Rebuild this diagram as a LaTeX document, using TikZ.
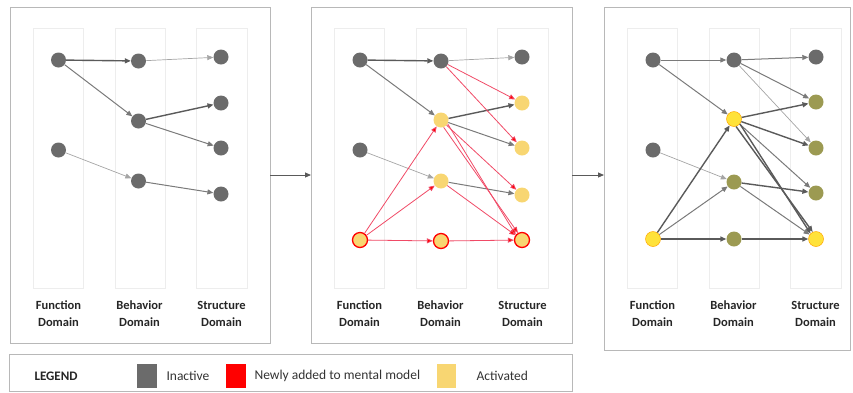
\documentclass[tikz,border=0pt]{standalone}
\usepackage{fontspec}
\setmainfont{Carlito}
\usetikzlibrary{arrows.meta}
\definecolor{gnode}{HTML}{6B6B6B}
\definecolor{ylw}{HTML}{F8D672}
\definecolor{bylw}{HTML}{FFE23A}
\definecolor{olv}{HTML}{9C9A52}
\definecolor{frame}{HTML}{B8B8B8}
\definecolor{strip}{HTML}{EDEDED}
\definecolor{rline}{HTML}{F04A66}
\definecolor{dk}{HTML}{5A5A5A}
\definecolor{md}{HTML}{7A7A7A}
\definecolor{lt}{HTML}{A5A5A5}
\tikzset{
  nd/.style={circle,minimum size=15pt,inner sep=0pt},
  inact/.style={nd,fill=gnode},
  act/.style={nd,fill=ylw},
  newn/.style={nd,fill=ylw,draw=red,line width=1.3pt},
  olvn/.style={nd,fill=olv},
  bright/.style={nd,fill=bylw,draw=orange!70!yellow,line width=0.5pt},
  tip/.style={-{Triangle[length=6pt,width=5pt]}},
  edk/.style={tip,draw=dk,line width=1.4pt},
  emd/.style={tip,draw=md,line width=1pt},
  elt/.style={tip,draw=lt,line width=0.7pt},
  ered/.style={-{Triangle[length=6pt,width=5pt,fill=red]},draw=rline,line width=0.8pt},
  panel/.style={draw=frame,line width=0.8pt},
  stripbox/.style={draw=strip,line width=0.8pt},
  dlabel/.style={font=\fontsize{12.5}{17}\selectfont\bfseries,align=center,text=black!85},
  legtext/.style={font=\fontsize{13.5}{16}\selectfont,text=black!80,anchor=west}
}
\begin{document}
\begin{tikzpicture}[x=1pt,y=-1pt]
\useasboundingbox (0,0) rectangle (853,392);
% panels
\draw[panel] (10,7) rectangle (270,343);
\draw[panel] (311,7) rectangle (572,343);
\draw[panel] (604,7) rectangle (850,350);
% strips
\foreach \ox in {10,311,604}{
  \draw[stripbox] (\ox+23,28) rectangle (\ox+73,288);
  \draw[stripbox] (\ox+105,28) rectangle (\ox+155,288);
  \draw[stripbox] (\ox+186,28) rectangle (\ox+237,288);
  \node[dlabel] at (\ox+48.5,314) {Function\\Domain};
  \node[dlabel] at (\ox+129.5,314) {Behavior\\Domain};
  \node[dlabel] at (\ox+211.5,314) {Structure\\Domain};
}
% ---------- panel 1 ----------
\begin{scope}[xshift=10pt]
\node[inact] (aF1) at (48.5,60) {};
\node[inact] (aF2) at (48.5,150) {};
\node[inact] (aB1) at (128.5,61) {};
\node[inact] (aB2) at (128.5,121) {};
\node[inact] (aB3) at (128.5,181) {};
\node[inact] (aS1) at (211,57) {};
\node[inact] (aS2) at (211,103) {};
\node[inact] (aS3) at (211,148) {};
\node[inact] (aS4) at (211,194) {};
\end{scope}
\draw[edk] (aF1) -- (aB1);
\draw[emd] (aF1) -- (aB2);
\draw[elt] (aB1) -- (aS1);
\draw[edk] (aB2) -- (aS2);
\draw[emd] (aB2) -- (aS3);
\draw[elt] (aF2) -- (aB3);
\draw[emd] (aB3) -- (aS4);
% ---------- panel 2 ----------
\begin{scope}[xshift=311pt]
\node[inact] (bF1) at (49,60) {};
\node[inact] (bF2) at (49,150) {};
\node[newn] (bF3) at (49,240) {};
\node[inact] (bB1) at (130,61) {};
\node[act] (bB2) at (130,120) {};
\node[act] (bB3) at (130,181) {};
\node[newn] (bB4) at (130,241) {};
\node[inact] (bS1) at (211,57) {};
\node[act] (bS2) at (211,103) {};
\node[act] (bS3) at (211,148) {};
\node[act] (bS4) at (211,195) {};
\node[newn] (bS5) at (211,240) {};
\end{scope}
\draw[edk] (bF1) -- (bB1);
\draw[emd] (bF1) -- (bB2);
\draw[elt] (bB1) -- (bS1);
\draw[edk] (bB2) -- (bS2);
\draw[emd] (bB2) -- (bS3);
\draw[elt] (bF2) -- (bB3);
\draw[emd] (bB3) -- (bS4);
\draw[ered] (bB1) -- (bS2);
\draw[ered] (bB1) -- (bS3);
\draw[ered] (bB2) -- (bS4);
\draw[ered] (bB2.-30) -- (bS5.140);
\draw[ered] (bB2.-70) -- (bS5.120);
\draw[ered] (bB3) -- (bS5);
\draw[ered] (bF3) -- (bB2);
\draw[ered] (bF3) -- (bB3);
\draw[ered] (bF3) -- (bB4);
\draw[ered] (bB4) -- (bS5);
% ---------- panel 3 ----------
\begin{scope}[xshift=604pt]
\node[inact] (cF1) at (49,60) {};
\node[inact] (cF2) at (49,150) {};
\node[bright] (cF3) at (49,239) {};
\node[inact] (cB1) at (130,60) {};
\node[bright] (cB2) at (130,119) {};
\node[olvn] (cB3) at (130,182) {};
\node[olvn] (cB4) at (130,239) {};
\node[inact] (cS1) at (212,57) {};
\node[olvn] (cS2) at (212,102) {};
\node[olvn] (cS3) at (212,148) {};
\node[olvn] (cS4) at (212,193) {};
\node[bright] (cS5) at (212,239) {};
\end{scope}
\draw[emd] (cF1) -- (cB1);
\draw[emd] (cF1) -- (cB2);
\draw[emd] (cB1) -- (cS1);
\draw[emd] (cB1) -- (cS2);
\draw[elt] (cB1) -- (cS3);
\draw[edk] (cB2) -- (cS2);
\draw[edk] (cB2) -- (cS3);
\draw[emd] (cB2) -- (cS4);
\draw[edk] (cB2.-40) -- (cS5.135);
\draw[edk] (cB2.-75) -- (cS5.115);
\draw[elt] (cF2) -- (cB3);
\draw[edk] (cB3) -- (cS4);
\draw[emd] (cB3) -- (cS5);
\draw[edk] (cF3) -- (cB2);
\draw[emd] (cF3) -- (cB3);
\draw[edk] (cF3) -- (cB4);
\draw[edk] (cB4) -- (cS5);
% ---------- between panels ----------
\coordinate (g1a) at (270,175);
\coordinate (g1b) at (311,175);
\coordinate (g2a) at (572,175);
\coordinate (g2b) at (604,175);
\draw[tip,draw=dk,line width=0.9pt] (g1a) -- (g1b);
\draw[tip,draw=dk,line width=0.9pt] (g2a) -- (g2b);
% ---------- legend ----------
\draw[panel] (9,354) rectangle (572,391);
\node[font=\fontsize{13}{16}\selectfont\bfseries,anchor=west,text=black!85] (leg) at (31,376) {LEGEND};
\node[fill=gnode,minimum width=20pt,minimum height=24pt,inner sep=0pt] (sq1) at (147,376) {};
\node[legtext] (t1) at (163,376) {Inactive};
\node[fill=red,minimum width=20pt,minimum height=24pt,inner sep=0pt] (sq2) at (236,376) {};
\node[legtext] (t2) at (251,376) {Newly added to mental model};
\node[fill=ylw,minimum width=19pt,minimum height=24pt,inner sep=0pt] (sq3) at (446,376) {};
\node[legtext] (t3) at (473,376) {Activated};
\end{tikzpicture}
\end{document}
